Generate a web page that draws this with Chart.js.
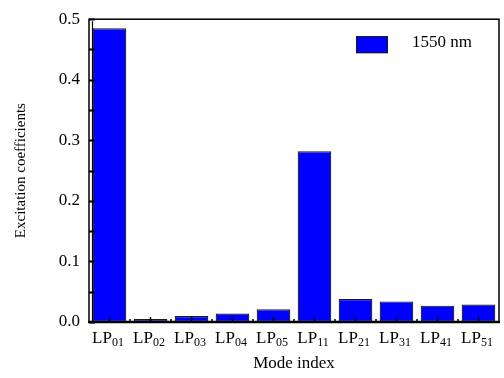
<!DOCTYPE html>
<html>
<head>
<meta charset="utf-8">
<script src="https://cdn.jsdelivr.net/npm/chart.js@4/dist/chart.umd.min.js"></script>
<style>
  html, body { margin: 0; padding: 0; background: #fff; }
  #wrap { width: 504px; height: 378px; }
</style>
</head>
<body>
<div id="wrap"><canvas id="c" width="504" height="378"></canvas></div>
<script>
// Mode labels: base name followed by the two-digit subscript
const modes = ['LP01', 'LP02', 'LP03', 'LP04', 'LP05', 'LP11', 'LP21', 'LP31', 'LP41', 'LP51'];
// Excitation coefficient of each mode at 1550 nm
const coeffs = [0.485, 0.005, 0.010, 0.014, 0.021, 0.282, 0.038, 0.034, 0.027, 0.029];
const seriesName = '1550 nm';
const yTickValues = [0, 0.1, 0.2, 0.3, 0.4, 0.5];

const SERIF = '"Liberation Serif", "Times New Roman", serif';

// Frame, inward ticks, subscripted category labels and in-plot legend
const decorations = {
  id: 'decorations',
  afterDatasetsDraw(chart) {
    const { ctx, chartArea: a, scales: { x, y } } = chart;
    ctx.save();
    ctx.strokeStyle = '#000';
    ctx.fillStyle = '#000';

    // plot frame
    ctx.lineWidth = 1.5;
    ctx.strokeRect(a.left, a.top, a.right - a.left, a.bottom - a.top);
    ctx.lineWidth = 2.5;
    ctx.beginPath();
    ctx.moveTo(a.left - 1, a.bottom);
    ctx.lineTo(a.right + 1, a.bottom);
    ctx.stroke();
    // inner rule next to the left axis
    ctx.lineWidth = 1.2;
    ctx.beginPath();
    ctx.moveTo(a.left + 3.5, a.top + 2);
    ctx.lineTo(a.left + 3.5, a.bottom);
    ctx.stroke();

    // y ticks pointing into the plot: major at labels, minor halfway
    ctx.lineWidth = 2;
    yTickValues.forEach((v, i) => {
      const py = Math.round(y.getPixelForValue(v)) + 0.5;
      ctx.beginPath();
      ctx.moveTo(a.left, py);
      ctx.lineTo(a.left + 6, py);
      ctx.stroke();
      if (i < yTickValues.length - 1) {
        const pm = Math.round(y.getPixelForValue((v + yTickValues[i + 1]) / 2)) + 0.5;
        ctx.beginPath();
        ctx.moveTo(a.left, pm);
        ctx.lineTo(a.left + 6, pm);
        ctx.stroke();
      }
    });

    // x ticks: at bar centres and small ones on category boundaries
    const n = modes.length;
    for (let i = 0; i < n; i++) {
      const px = x.getPixelForTick(i);
      ctx.lineWidth = 1.5;
      ctx.beginPath();
      ctx.moveTo(px, a.bottom);
      ctx.lineTo(px, a.bottom - 5);
      ctx.stroke();
      if (i < n - 1) {
        const pb = (px + x.getPixelForTick(i + 1)) / 2;
        ctx.beginPath();
        ctx.moveTo(pb, a.bottom);
        ctx.lineTo(pb, a.bottom - 3);
        ctx.stroke();
      }
    }

    // category labels with subscripts
    ctx.textBaseline = 'alphabetic';
    ctx.textAlign = 'left';
    modes.forEach((m, i) => {
      const base = m.slice(0, 2);
      const sub = m.slice(2);
      ctx.font = '17px ' + SERIF;
      const wb = ctx.measureText(base).width;
      ctx.font = '12px ' + SERIF;
      const ws = ctx.measureText(sub).width;
      const x0 = x.getPixelForTick(i) - (wb + ws) / 2 - 1.5;
      ctx.font = '17px ' + SERIF;
      ctx.fillText(base, x0, a.bottom + 21);
      ctx.font = '12px ' + SERIF;
      ctx.fillText(sub, x0 + wb, a.bottom + 24);
    });

    // legend inside the plot, top right
    const ds = chart.data.datasets[0];
    const lx = a.right - 143, ly = a.top + 17;
    ctx.fillStyle = ds.backgroundColor;
    ctx.fillRect(lx, ly, 32, 17);
    ctx.lineWidth = 1;
    ctx.strokeStyle = ds.borderColor;
    ctx.strokeRect(lx + 0.5, ly + 0.5, 31, 16);
    ctx.fillStyle = '#000';
    ctx.font = '17px ' + SERIF;
    ctx.fillText(ds.label, a.right - 87, a.top + 27.5);
    ctx.restore();
  }
};

new Chart(document.getElementById('c'), {
  type: 'bar',
  data: {
    labels: modes,
    datasets: [{
      label: seriesName,
      data: coeffs,
      backgroundColor: '#0000ff',
      borderColor: '#1a1a1a',
      borderWidth: 1.2,
      borderSkipped: false,
      barPercentage: 0.82,
      categoryPercentage: 1.0
    }]
  },
  options: {
    responsive: true,
    maintainAspectRatio: false,
    animation: false,
    layout: { padding: { top: 10, right: 5, left: 0, bottom: 0 } },
    plugins: {
      legend: { display: false },
      tooltip: { enabled: false }
    },
    scales: {
      x: {
        grid: { display: false, drawTicks: false },
        border: { display: false },
        ticks: { display: false },
        afterFit(scale) { scale.height = 56; },
        title: {
          display: true,
          text: 'Mode index',
          color: '#000',
          font: { family: SERIF, size: 17 },
          padding: { top: 0, bottom: 4 }
        }
      },
      y: {
        min: 0,
        max: 0.5,
        afterBuildTicks(scale) { scale.ticks = yTickValues.map(v => ({ value: v })); },
        grid: { display: false, drawTicks: false },
        border: { display: false },
        ticks: {
          color: '#000',
          font: { family: SERIF, size: 17 },
          padding: 9,
          callback: v => Number(v).toFixed(1)
        },
        afterFit(scale) { scale.width = 89; },
        title: {
          display: true,
          text: 'Excitation coefficients',
          color: '#000',
          font: { family: SERIF, size: 15 },
          padding: { top: 12, bottom: 0 }
        }
      }
    }
  },
  plugins: [decorations]
});
</script>
</body>
</html>
